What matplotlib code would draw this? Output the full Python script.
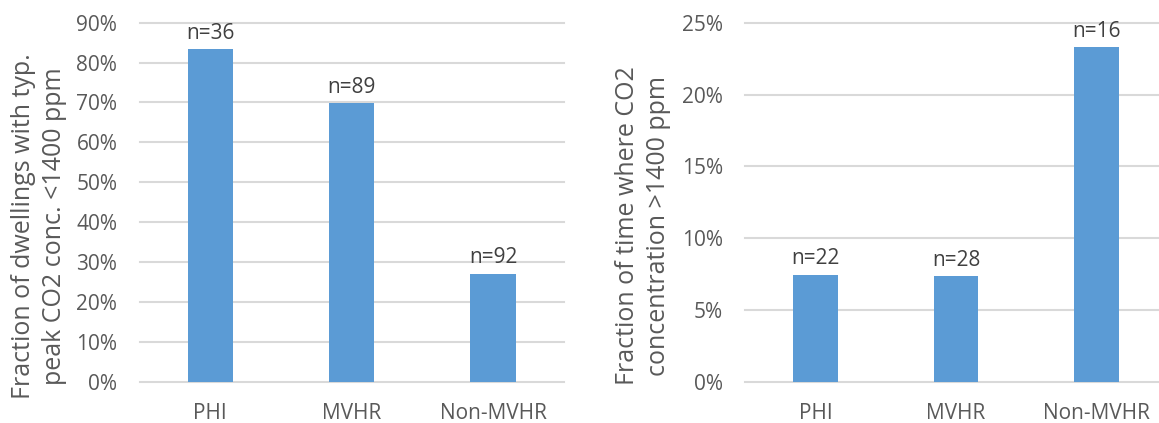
import matplotlib as mpl
mpl.use('Agg')
import matplotlib.pyplot as plt
from matplotlib.ticker import PercentFormatter

plt.rcParams['font.family'] = ['Open Sans', 'DejaVu Sans']

categories = ['PHI', 'MVHR', 'Non-MVHR']

# share of dwellings whose typical peak CO2 stays below 1400 ppm
peak_below = [0.833, 0.698, 0.271]
peak_n = [36, 89, 92]

# share of time spent above 1400 ppm
time_above = [0.0743, 0.0733, 0.233]
time_n = [22, 28, 16]

bar_color = '#5b9bd5'
grid_color = '#d9d9d9'
tick_color = '#595959'
label_color = '#404040'

fig = plt.figure(figsize=(11.59, 4.23), dpi=100)
ax0 = fig.add_axes([0.1204, 0.0976, 0.366, 0.8487])
ax1 = fig.add_axes([0.643, 0.0976, 0.3637, 0.8487])


def draw(ax, values, counts, top, step, ylabel, label_x):
    x = range(len(categories))
    bars = ax.bar(x, values, width=0.32, color=bar_color, zorder=2)
    for b, n in zip(bars, counts):
        ax.annotate('n=%d' % n, (b.get_x() + b.get_width() / 2, b.get_height()),
                    xytext=(0, 4), textcoords='offset points',
                    ha='center', va='bottom', fontsize=15, color=label_color)
    ax.set_xlim(-0.5, len(categories) - 0.5)
    ax.set_ylim(0, top)
    ax.set_yticks([i * step for i in range(int(round(top / step)) + 1)])
    ax.yaxis.set_major_formatter(PercentFormatter(1.0, decimals=0))
    ax.set_xticks(list(x))
    ax.set_xticklabels(categories)
    ax.tick_params(length=0, labelsize=15, colors=tick_color)
    ax.tick_params(axis='y', pad=16)
    ax.tick_params(axis='x', pad=15)
    ax.yaxis.grid(True, color=grid_color, lw=1.5)
    for line in ax.get_ygridlines():
        line.set_clip_on(False)
    ax.set_axisbelow(True)
    for s in ax.spines.values():
        s.set_visible(False)
    ax.set_ylabel(ylabel, fontsize=18, color=tick_color, linespacing=1.3,
                  va='center')
    ax.yaxis.set_label_coords(label_x, 0.434)


draw(ax0, peak_below, peak_n, 0.9, 0.1,
     'Fraction of dwellings with typ.\npeak CO2 conc. <1400 ppm', -0.237)
draw(ax1, time_above, time_n, 0.25, 0.05,
     'Fraction of time where CO2\nconcentration >1400 ppm', -0.243)

fig.savefig('out.png', dpi=100)
